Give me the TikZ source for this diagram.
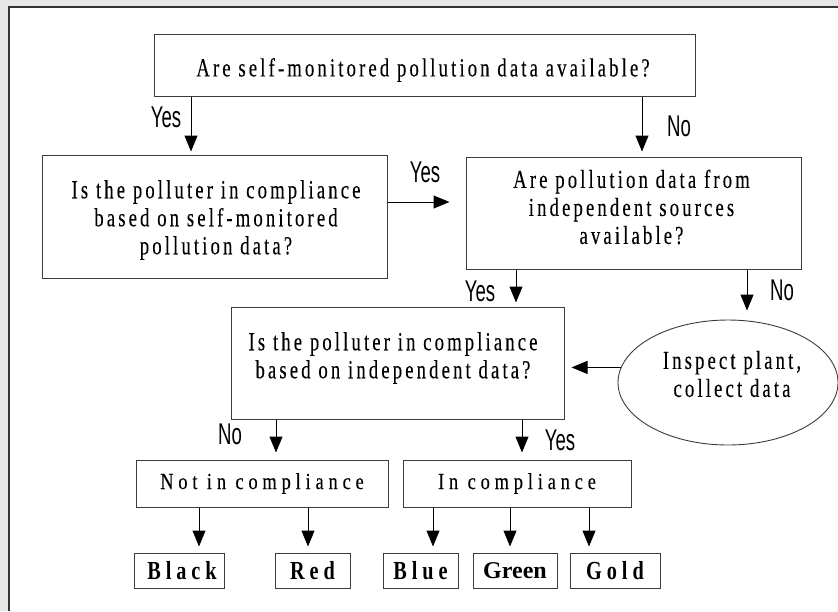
\documentclass[tikz,border=0pt]{standalone}
\usepackage{fontspec}
\usetikzlibrary{arrows.meta,shapes.geometric}

% Fonts: tracked serif for questions, narrow sans for branch answers
\newfontfamily\qfont[FakeStretch=0.72,LetterSpace=12,FakeBold=0.15]{Liberation Serif}
\newfontfamily\spacedfont[FakeStretch=0.8,LetterSpace=21,FakeBold=0.15]{Liberation Serif}
\newfontfamily\colfont[FakeStretch=0.78,LetterSpace=19]{Liberation Serif}
\newfontfamily\plainbold{Liberation Serif}
\newfontfamily\ansfont[FakeStretch=0.62]{Liberation Sans}

\definecolor{panelgray}{HTML}{E6E7E8}
\definecolor{frameline}{HTML}{333333}
\definecolor{boxline}{HTML}{3C3C3C}

\begin{document}
\begin{tikzpicture}[x=1pt,y=-1pt,
  box/.style={draw=boxline,line width=1pt,inner sep=0pt},
  oval/.style={draw=boxline,line width=0.9pt,ellipse,inner sep=0pt},
  arr/.style={-{Triangle[length=16pt,width=13pt]},line width=1pt,black},
  ans/.style={font=\ansfont\fontsize{30}{30}\selectfont,inner sep=0pt},
  qtext/.style={font=\qfont\fontsize{26}{28}\selectfont,align=center,inner sep=0pt},
  status/.style={box,font=\spacedfont\fontsize{23}{24}\selectfont},
  colour/.style={box,font=\colfont\bfseries\fontsize{26}{28}\selectfont},
]
\useasboundingbox (0,0) rectangle (838,611);

% Page panel
\fill[panelgray] (0,0) rectangle (838,611);
\fill[white] (9,7) rectangle (838,611);
\draw[frameline,line width=1.4pt] (9,611) -- (9,7) -- (838,7);

% Decision boxes
\node[box,minimum width=541,minimum height=62] (q1) at (424.5,65) {};
\node[qtext] (q1t) at (423,70) {Are self-monitored pollution data available?};

\node[box,minimum width=345,minimum height=123] (q2) at (214.5,216.5) {};
\node[qtext] (q2t) at (216,220) {Is the polluter in com\kern3pt pliance\\based on self-monitored\\pollution data?};

\node[box,minimum width=335,minimum height=112] (q3) at (633.5,213) {};
\node[qtext] (q3t) at (631.5,207) {Are pollution data from\\independent sources\\available?};

\node[box,minimum width=333,minimum height=112] (q4) at (397.5,363) {};
\node[qtext] (q4t) at (393,358) {Is the polluter in com\kern3pt pliance\\based on independent data?};

\node[oval,minimum width=220,minimum height=125] (insp) at (728,382.5) {};
\node[qtext] (inspt) at (732,374) {Inspect plant,\\collect data};

% Outcome boxes
\node[status,minimum width=252,minimum height=47] (notin) at (262,483.5) {Not in compliance};
\node[status,minimum width=228,minimum height=47] (inc) at (517,483.5) {In compliance};

\node[colour,minimum width=90,minimum height=35] (black) at (179,570.5) {\kern6pt Black};
\node[colour,minimum width=75,minimum height=35] (red) at (312.5,570.5) {Red};
\node[colour,minimum width=75,minimum height=35] (blue) at (420.5,570.5) {Blue};
\node[box,minimum width=84,minimum height=35,font=\plainbold\bfseries\fontsize{24}{26}\selectfont] (green) at (515,570.5) {Green};
\node[colour,minimum width=90,minimum height=35] (gold) at (615,570.5) {Gold};

% Connector columns and rows
\coordinate (xa) at (191,0);
\coordinate (xb) at (642,0);
\coordinate (xc) at (516,0);
\coordinate (xd) at (747,0);
\coordinate (xe) at (276,0);
\coordinate (xf) at (522,0);
\coordinate (xg) at (199,0);
\coordinate (xh) at (308,0);
\coordinate (xi) at (433,0);
\coordinate (xj) at (510,0);
\coordinate (xk) at (589,0);
\coordinate (ra) at (0,202);

% Connectors
\draw[arr,shorten >=3pt] (q1.south -| xa) -- (q2.north -| xa);
\draw[arr,shorten >=5pt] (q1.south -| xb) -- (q3.north -| xb);
\draw[arr,shorten >=16pt] (q2.east |- ra) -- (q3.west |- ra);
\draw[arr,shorten >=4pt] (q3.south -| xc) -- (q4.north -| xc);
\draw[arr,shorten >=9pt] (q3.south -| xd) -- (insp.north -| xd);
\draw[arr,shorten >=7pt] (insp.172) -- (q4.east |- insp.172);
\draw[arr,shorten >=7pt] (q4.south -| xe) -- (notin.north -| xe);
\draw[arr,shorten >=7pt] (q4.south -| xf) -- (inc.north -| xf);
\draw[arr,shorten >=6pt] (notin.south -| xg) -- (black.north -| xg);
\draw[arr,shorten >=6pt] (notin.south -| xh) -- (red.north -| xh);
\draw[arr,shorten >=6pt] (inc.south -| xi) -- (blue.north -| xi);
\draw[arr,shorten >=6pt] (inc.south -| xj) -- (green.north -| xj);
\draw[arr,shorten >=6pt] (inc.south -| xk) -- (gold.north -| xk);

% Branch answers
\node[ans] (ya) at (166,117) {Yes};
\node[ans] (na) at (679,126) {No};
\node[ans] (yb) at (425,172) {Yes};
\node[ans] (yc) at (480,291) {Yes};
\node[ans] (nb) at (782,290) {No};
\node[ans] (nc) at (230,434) {No};
\node[ans] (yd) at (560,440) {Yes};
\end{tikzpicture}
\end{document}
